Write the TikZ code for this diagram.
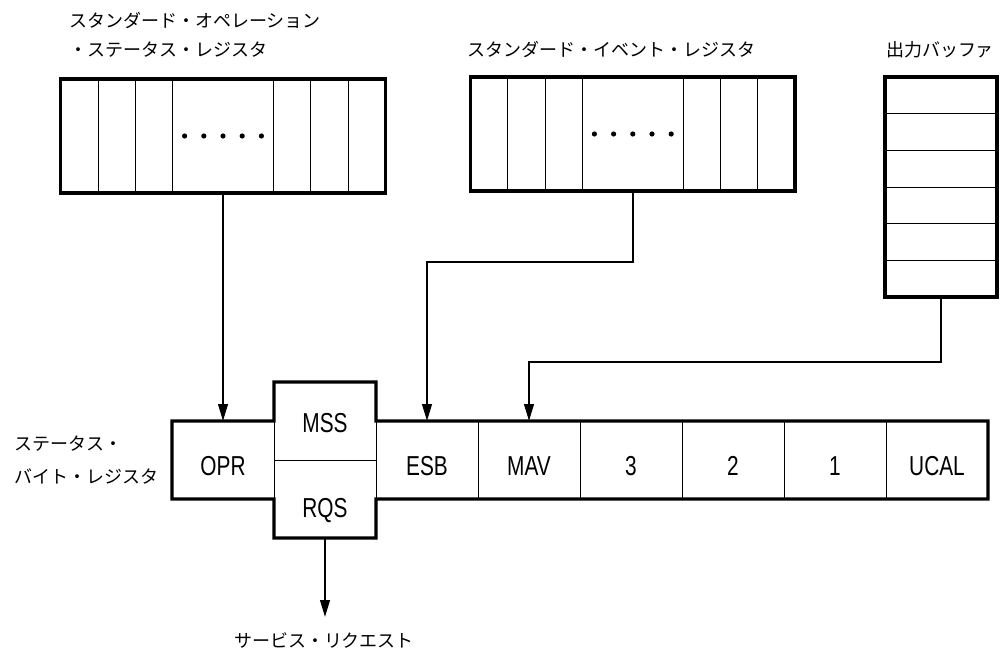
\documentclass[tikz,border=0pt]{standalone}
\usepackage{fontspec}
\newfontfamily\jpfont{Noto Sans CJK JP}
\newfontfamily\cellfont[FakeStretch=0.76]{Liberation Sans}
\usetikzlibrary{positioning, arrows.meta, calc}
\tikzset{
    regbox/.style={draw, line width=2.3pt, minimum height=2.85cm, inner sep=0pt, outer sep=0pt},
    bigcell/.style={draw, line width=0.6pt, minimum width=2.53cm, minimum height=2.85cm, inner sep=0pt, outer sep=0pt},
    bitcell/.style={draw, line width=0.6pt, minimum width=2.55cm, minimum height=1.95cm, inner sep=0pt, outer sep=0pt, text height=0.77cm, text depth=0pt, font=\cellfont\fontsize{19.5}{22}\selectfont},
    jplabel/.style={inner sep=0pt, align=left, font=\jpfont\fontsize{12.8}{20.6}\selectfont},
    thinline/.style={line width=0.6pt},
    outline/.style={line width=2.3pt, line join=miter},
    conn/.style={line width=1.4pt},
}

\begin{document}
\begin{tikzpicture}[>={Triangle[length=0.42cm, width=0.24cm]}]
\useasboundingbox (0,0) rectangle (25.05,16.3);

\node[jplabel, anchor=west] (sotitle) at (1.72,15.44) {スタンダード・オペレーション\\・ステータス・レジスタ};
\node[jplabel] (setitle) at (15.28,15.05) {スタンダード・イベント・レジスタ};
\node[jplabel] (buftitle) at (23.5,15.05) {出力バッファ};

\node[regbox, minimum width=8.11cm] (soreg) at (5.575,12.9) {};
\node[bigcell] (sobits) at (soreg.center) {};
\node[regbox, minimum width=8.11cm] (sereg) at (15.82,12.95) {};
\node[bigcell] (sebits) at (sereg.center) {};
\foreach \reg in {sobits, sebits} {
    \foreach \d in {0.93, 1.86} {
        \draw[thinline] ([xshift=-\d cm]\reg.north west) -- ([xshift=-\d cm]\reg.south west);
        \draw[thinline] ([xshift=\d cm]\reg.north east) -- ([xshift=\d cm]\reg.south east);
    }
    \foreach \i in {-2,...,2}
        \fill (\reg.center) ++(\i*0.48,0) circle (0.065);
}

\node[regbox, minimum width=2.8cm, minimum height=5.5cm] (outbuf) at (23.525,11.625) {};
\foreach \k in {1,...,5}
    \draw[thinline] ([yshift=-\k*0.9167cm]outbuf.north west) -- ([yshift=-\k*0.9167cm]outbuf.north east);

\node[bitcell] (opr) at (5.575,4.8) {OPR};
\node[bitcell, anchor=south west, text height=0.59cm] (mss) at (opr.east) {MSS};
\node[bitcell, anchor=north west, text height=0.9cm] (rqs) at (opr.east) {RQS};
\node[bitcell, right=2.55cm of opr] (esb) {ESB};
\node[bitcell, right=0pt of esb] (mav) {MAV};
\node[bitcell, right=0pt of mav] (b3) {3};
\node[bitcell, right=0pt of b3] (b2) {2};
\node[bitcell, right=0pt of b2] (b1) {1};
\node[bitcell, right=0pt of b1] (ucal) {UCAL};
\draw[outline] (opr.south west) -- (opr.north west) -- (opr.north east) -- (mss.north west)
    -- (mss.north east) -- (esb.north west) -- (ucal.north east) -- (ucal.south east)
    -- (esb.south west) -- (rqs.south east) -- (rqs.south west) -- (opr.south east) -- cycle;

\node[jplabel, anchor=west, font=\jpfont\fontsize{12.8}{24}\selectfont] (sbrlabel) at (0.35,4.8) {ステータス・\\バイト・レジスタ};
\coordinate (srq) at (8.125,0.875);
\node[jplabel] (srqlabel) at (8.1,0.3) {サービス・リクエスト};

\draw[conn, ->] (sobits.south) -- (opr.north);
\draw[conn, ->] (sebits.south) -- ++(0,-1.775) -| (esb.north);
\draw[conn, ->] (outbuf.south) -- ++(0,-1.625) -| (mav.north);
\draw[conn, ->] (rqs.south) -- (srq);
\end{tikzpicture}
\end{document}
